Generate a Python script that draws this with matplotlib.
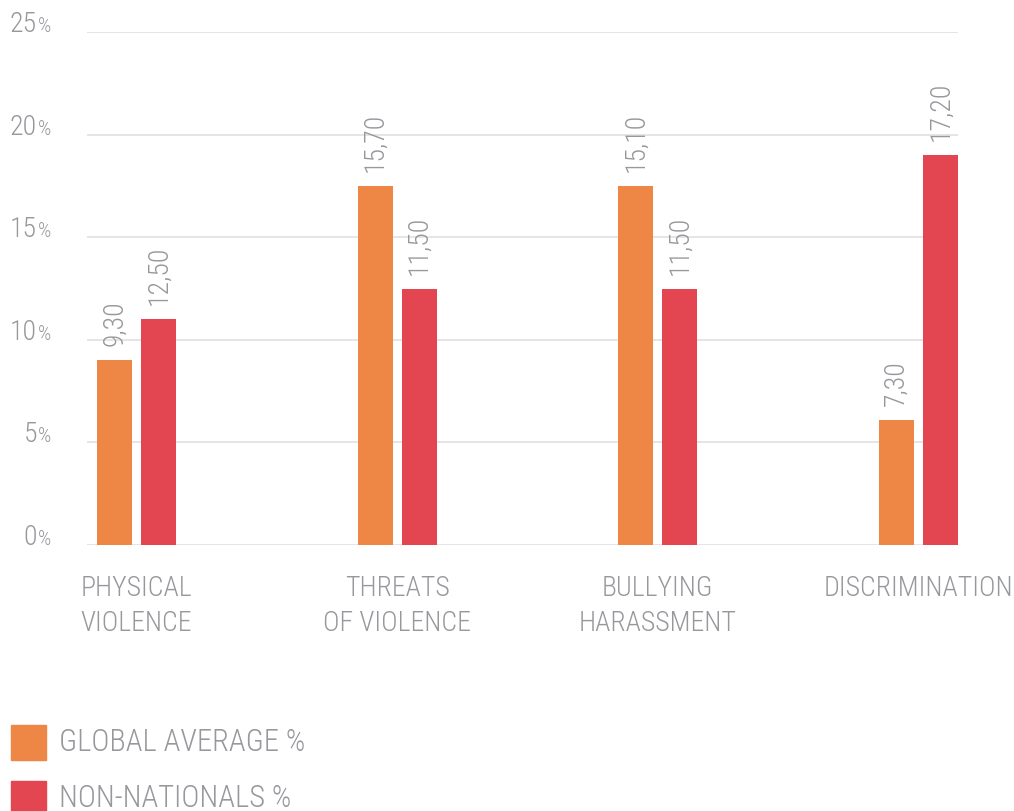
import numpy as np
import matplotlib
matplotlib.use("Agg")
import matplotlib.pyplot as plt
from matplotlib.patches import Rectangle
from matplotlib.transforms import blended_transform_factory
from matplotlib import font_manager

# данные
categories = ["PHYSICAL\nVIOLENCE", "THREATS\nOF VIOLENCE", "BULLYING\nHARASSMENT", "DISCRIMINATION"]
global_avg = [9.0, 17.5, 17.5, 6.1]
non_nationals = [11.0, 12.5, 12.5, 19.0]
global_labels = ["9,30", "15,70", "15,10", "7,30"]
non_nat_labels = ["12,50", "11,50", "11,50", "17,20"]
y_ticks = [0, 5, 10, 15, 20, 25]
series_names = ["GLOBAL AVERAGE %", "NON-NATIONALS %"]

orange = "#ee8745"
red = "#e34650"
gray = "#97989c"

# узкий светлый шрифт
names = {f.name for f in font_manager.fontManager.ttflist}
narrow = "Roboto Condensed" if "Roboto Condensed" in names else "Barlow Semi Condensed"
plt.rcParams['font.family'] = [narrow, 'Roboto', 'DejaVu Sans']
plt.rcParams['font.weight'] = 300

fig = plt.figure(figsize=(10.14, 8.11), dpi=100)
ax = fig.add_axes([87/1014, 266/811, 871/1014, 513/811])

x = np.arange(len(categories))
w = 0.134
off = 0.0844
b1 = ax.bar(x - off, global_avg, w, color=orange, zorder=3)
b2 = ax.bar(x + off, non_nationals, w, color=red, zorder=3)

for bars, labels in [(b1, global_labels), (b2, non_nat_labels)]:
    for rect, lab in zip(bars, labels):
        ax.annotate(lab, (rect.get_x() + rect.get_width() / 2, rect.get_height()),
                    xytext=(0, 10), textcoords="offset points", rotation=90,
                    ha="center", va="bottom", color=gray, fontsize=20)

ax.set_xlim(-0.19, 3.152)
ax.set_ylim(0, 25)
for t in y_ticks:
    ax.axhline(t, color="#e3e3e3", lw=1.3, zorder=1)
for s in ax.spines.values():
    s.set_visible(False)
ax.set_xticks([])
ax.set_yticks([])

# подписи оси y: число и маленький знак %
tr = blended_transform_factory(fig.transFigure, ax.transData)
for t in y_ticks:
    ax.text(37/1014, t, str(t), transform=tr, ha="right", va="baseline",
            color=gray, fontsize=20)
    ax.text(38/1014, t, "%", transform=tr, ha="left", va="baseline",
            color=gray, fontsize=15)

# категории
for xi, cat in zip(x, categories):
    ax.text(xi, -1.45, cat, ha="center", va="top", color=gray, fontsize=20,
            linespacing=1.4)

# легенда
for i, (name, col) in enumerate(zip(series_names, [orange, red])):
    y0 = 1 - (725 + 56 * i) / 811
    fig.patches.append(Rectangle((11/1014, y0 - 35/811), 35/1014, 35/811,
                                 transform=fig.transFigure, color=col))
    fig.text(59/1014, y0 - 17.5/811, name, ha="left", va="center",
             color=gray, fontsize=22)

fig.savefig("out.png", dpi=100)
